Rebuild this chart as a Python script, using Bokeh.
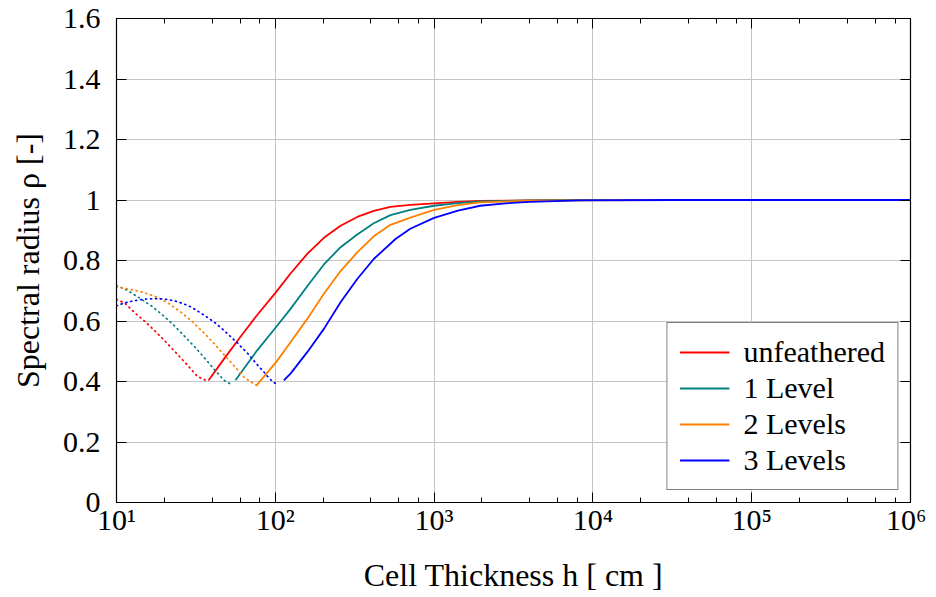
from bokeh.plotting import figure
from bokeh.models import LogAxis, LinearAxis, FixedTicker, LogTicker, CustomJSTickFormatter
from bokeh.embed import file_html
from bokeh.resources import INLINE

# ---------------- data ----------------
x_ticks = [10, 100, 1000, 10000, 100000, 1000000]
x_tick_labels = ["10¹", "10²", "10³", "10⁴", "10⁵", "10⁶"]
y_ticks = [0, 0.2, 0.4, 0.6, 0.8, 1.0, 1.2, 1.4, 1.6]
y_tick_labels = ["0", "0.2", "0.4", "0.6", "0.8", "1", "1.2", "1.4", "1.6"]

series_names = ["unfeathered", "1 Level", "2 Levels", "3 Levels"]
series_colors = ["#ff0000", "#008080", "#ff8000", "#0000ff"]

# dotted (left) branches
red_dot_h = [10, 11.27, 12.97, 15.31, 17.95, 20.75, 24.10, 27.86, 32.21, 35.16, 37.93]
red_dot_r = [0.672, 0.659, 0.628, 0.596, 0.561, 0.527, 0.491, 0.455, 0.418, 0.407, 0.402]

teal_dot_h = [10, 11.56, 13.96, 16.67, 19.68, 23.17, 26.79, 31.12, 35.97, 41.21, 47.64, 51.64]
teal_dot_r = [0.717, 0.703, 0.676, 0.649, 0.618, 0.584, 0.550, 0.514, 0.477, 0.440, 0.404, 0.393]

orange_dot_h = [10, 11.86, 14.66, 17.95, 21.58, 25.76, 30.41, 35.48, 41.21, 47.86, 55.34, 63.97, 69.50, 76.21]
orange_dot_r = [0.713, 0.706, 0.695, 0.679, 0.656, 0.627, 0.595, 0.561, 0.525, 0.487, 0.450, 0.413, 0.400, 0.387]

blue_dot_h = [10, 10.96, 12.62, 14.03, 15.60, 17.42, 19.50, 21.58, 23.88, 26.42, 29.24, 32.21, 35.16,
              38.55, 41.98, 45.60, 49.55, 53.58, 58.08, 62.37, 67.45, 72.11, 77.45, 83.37, 89.33, 95.94, 103.3]
blue_dot_r = [0.650, 0.658, 0.666, 0.670, 0.673, 0.674, 0.673, 0.670, 0.665, 0.657, 0.647, 0.634, 0.621,
              0.607, 0.593, 0.577, 0.560, 0.543, 0.526, 0.509, 0.491, 0.473, 0.454, 0.436, 0.417, 0.400, 0.389]

# solid (right) branches
red_h = [37.93, 47.42, 60.39, 76.91, 100.2, 124.7, 158.9, 202.3, 257.6, 328.1, 416.9, 530.9, 707.9,
         1000, 1413, 1950, 3981, 10000, 1000000]
red_r = [0.403, 0.474, 0.548, 0.620, 0.693, 0.757, 0.822, 0.875, 0.915, 0.944, 0.964, 0.977, 0.984,
         0.989, 0.994, 0.997, 0.999, 1.0, 1.0]

teal_h = [56.1, 76.9, 101.2, 124.7, 158.9, 202.3, 257.6, 328.1, 416.9, 530.9, 707.9,
          1000, 1413, 1950, 3981, 10000, 1000000]
teal_r = [0.404, 0.503, 0.580, 0.640, 0.715, 0.787, 0.844, 0.886, 0.923, 0.950, 0.967,
          0.981, 0.990, 0.995, 0.999, 1.0, 1.0]

orange_h = [76.21, 101.2, 124.7, 158.9, 202.3, 257.6, 328.1, 416.9, 530.9, 707.9,
            1000, 1413, 1950, 3981, 10000, 31620, 1000000]
orange_r = [0.387, 0.464, 0.530, 0.607, 0.690, 0.765, 0.827, 0.880, 0.918, 0.942,
            0.967, 0.983, 0.992, 0.998, 0.999, 1.0, 1.0]

blue_h = [113.2, 124.7, 158.9, 202.3, 257.6, 328.1, 416.9, 571.5, 707.9,
          1000, 1413, 1950, 2818, 3981, 8318, 31620, 1000000]
blue_r = [0.404, 0.426, 0.497, 0.574, 0.662, 0.739, 0.805, 0.871, 0.905,
          0.941, 0.965, 0.981, 0.989, 0.994, 0.999, 1.0, 1.0]

dotted_h = [red_dot_h, teal_dot_h, orange_dot_h, blue_dot_h]
dotted_r = [red_dot_r, teal_dot_r, orange_dot_r, blue_dot_r]
solid_h = [red_h, teal_h, orange_h, blue_h]
solid_r = [red_r, teal_r, orange_r, blue_r]

FONT = "Liberation Serif"

p = figure(width=926, height=595, x_axis_type="log", x_range=(10, 1e6), y_range=(0, 1.6),
           output_backend="svg", toolbar_location=None,
           min_border_left=116, min_border_right=16, min_border_top=18, min_border_bottom=91)

p.background_fill_color = "white"
p.border_fill_color = "white"
p.outline_line_color = "black"
p.outline_line_width = 1.2

for name, color, dh, dr, sh, sr in zip(series_names, series_colors, dotted_h, dotted_r, solid_h, solid_r):
    p.line(dh, dr, line_color=color, line_width=1.7, line_dash="1 4", line_cap="round")
    p.line(sh, sr, line_color=color, line_width=1.8, legend_label=name)

# axes
xfmt = CustomJSTickFormatter(args=dict(xt=x_ticks, xl=x_tick_labels), code="""
const i = xt.findIndex(t => Math.abs(Math.log10(t) - Math.log10(tick)) < 1e-6);
return i >= 0 ? xl[i] : "";
""")
yfmt = CustomJSTickFormatter(args=dict(yt=y_ticks, yl=y_tick_labels), code="""
const i = yt.findIndex(t => Math.abs(t - tick) < 1e-9);
return i >= 0 ? yl[i] : "";
""")

p.xaxis.ticker = LogTicker(desired_num_ticks=6)
p.xaxis.formatter = xfmt
p.yaxis.ticker = FixedTicker(ticks=y_ticks)
p.yaxis.formatter = yfmt

for ax in (p.xaxis[0], p.yaxis[0]):
    ax.major_tick_in = 10
    ax.major_tick_out = 0
    ax.minor_tick_in = 5
    ax.minor_tick_out = 0
    ax.axis_line_color = "black"
    ax.major_tick_line_color = "black"
    ax.minor_tick_line_color = "black"
    ax.major_label_text_font = FONT
    ax.major_label_text_font_size = "30px"
    ax.major_label_text_color = "black"
    ax.axis_label_text_font = FONT
    ax.axis_label_text_font_size = "32px"
    ax.axis_label_text_font_style = "normal"
    ax.axis_label_text_color = "black"

p.yaxis.minor_tick_line_color = None
p.xaxis.axis_label = "Cell Thickness h [ cm ]"
p.yaxis.axis_label = "Spectral radius ρ [-]"
p.xaxis.major_label_standoff = 0
p.xaxis.axis_label_standoff = 18
p.yaxis.major_label_standoff = 16
p.yaxis.axis_label_standoff = 14

blank = CustomJSTickFormatter(code="return '';")
top = LogAxis(ticker=LogTicker(desired_num_ticks=6), formatter=blank,
              major_tick_in=10, major_tick_out=0, minor_tick_in=5, minor_tick_out=0,
              major_label_standoff=0, axis_line_color="black")
right = LinearAxis(ticker=FixedTicker(ticks=y_ticks), formatter=blank,
                   major_tick_in=10, major_tick_out=0, minor_tick_line_color=None,
                   major_label_standoff=0, axis_line_color="black")
p.add_layout(top, "above")
p.add_layout(right, "right")

p.xgrid.grid_line_color = "#c4c4c4"
p.ygrid.grid_line_color = "#c4c4c4"
p.xgrid.grid_line_width = 1
p.ygrid.grid_line_width = 1

lg = p.legend[0]
lg.location = "bottom_right"
lg.margin = 12
lg.padding = 12
lg.spacing = 2
lg.glyph_width = 50
lg.glyph_height = 30
lg.label_height = 30
lg.label_standoff = 14
lg.label_text_font = FONT
lg.label_text_font_size = "30px"
lg.label_text_color = "black"
lg.border_line_color = "black"
lg.border_line_width = 1.2
lg.background_fill_alpha = 1.0

open("out.html", "w").write(file_html(p, INLINE))
